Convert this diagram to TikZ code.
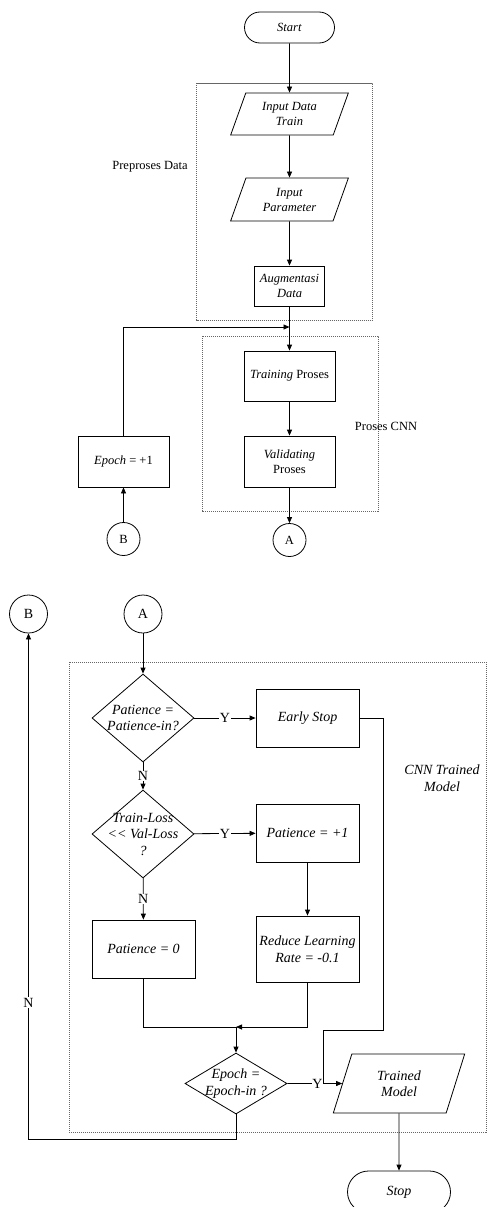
\documentclass[tikz,border=0pt]{standalone}
\usepackage{fontspec}
\setmainfont{Liberation Serif}
\usetikzlibrary{shapes.geometric,arrows.meta}
\begin{document}
\begin{tikzpicture}[x=1pt,y=-1pt,
  line width=0.8pt,
  topf/.style={font=\fontsize{12.5}{15}\selectfont},
  botf/.style={font=\fontsize{14}{16.5}\selectfont},
  base/.style={align=center, inner sep=0pt},
  proc/.style={base, draw, rectangle},
  term/.style={base, draw, rectangle},
  io/.style={base, draw, trapezium, trapezium stretches=true},
  dia/.style={draw, diamond, inner sep=0pt},
  conn/.style={base, draw, circle},
  grp/.style={draw=black!60, dash pattern=on 1.2pt off 0.8pt, line width=0.7pt},
  arr/.style={-{Triangle[length=6pt,width=5pt]}},
  lbl/.style={base, fill=white, inner sep=0.8pt},
  grplbl/.style={base}
]
\useasboundingbox (0,0) rectangle (488,1207);
\fill[white] (0,0) rectangle (488,1207);

% ---------- groups ----------
\draw[grp] (196.5,83) rectangle (372.5,320);
\node[grplbl, topf] (lpre) at (150,167) {Preproses Data};
\draw[grp] (202,336) rectangle (378,511);
\node[grplbl, topf] (lcnn) at (386,426) {Proses CNN};
\draw[grp] (69,662) rectangle (486,1132);
\node[grplbl, botf, font=\fontsize{14}{16.5}\selectfont\itshape] (ltm) at (442,778) {CNN Trained\\Model};

% ---------- top part ----------
\node[term, topf, rounded corners=15.5pt, minimum width=90, minimum height=31] (start) at (289.5,27.5) {\textit{Start}};
\node[io, topf, trapezium left angle=68, trapezium right angle=112, minimum width=118, minimum height=42] (idt) at (289.5,114) {\textit{Input Data}\\\textit{Train}};
\node[io, topf, trapezium left angle=68, trapezium right angle=112, minimum width=118, minimum height=43] (ipar) at (289.5,199.5) {\textit{Input}\\\textit{Parameter}};
\node[proc, topf, minimum width=70, minimum height=40] (aug) at (289.5,286) {\textit{Augmentasi}\\\textit{Data}};
\node[proc, topf, minimum width=91, minimum height=50] (tp) at (289.5,376) {\textit{Training} Proses};
\node[proc, topf, minimum width=91, minimum height=51] (vp) at (289.5,461.5) {\textit{Validating}\\Proses};
\node[proc, topf, minimum width=91, minimum height=51] (ep) at (123.5,461.5) {\textit{Epoch} = +1};
\node[conn, topf, minimum size=33] (A1) at (289.5,540) {A};
\node[conn, topf, minimum size=33] (B1) at (123.5,539) {B};
\coordinate (j1) at (289.5,327);

\draw[arr] (start) -- (idt);
\draw[arr] (idt) -- (ipar);
\draw[arr] (ipar) -- (aug);
\draw[arr] (aug) -- (tp);
\draw[arr] (ep.north) |- (j1);
\draw[arr] (tp) -- (vp);
\draw[arr] (vp) -- (A1);
\draw[arr] (B1) -- (ep);

% ---------- bottom part ----------
\node[conn, botf, minimum size=38] (B2) at (28.5,614) {B};
\node[conn, botf, minimum size=38] (A2) at (143,614) {A};

\node[dia, minimum width=102, minimum height=88] (d1) at (143,718) {};
\node[base, botf, font=\fontsize{14}{16.5}\selectfont\itshape] (d1t) at (d1) {Patience =\\Patience-in?};
\node[proc, botf, minimum width=103, minimum height=58] (es) at (307.5,718) {\textit{Early Stop}};

\node[dia, minimum width=102, minimum height=88] (d2) at (143,834) {};
\node[base, botf, font=\fontsize{14}{16.5}\selectfont\itshape] (d2t) at (d2) {Train-Loss\\<{}< Val-Loss\\?};
\node[proc, botf, minimum width=103, minimum height=58] (pp1) at (307.5,833) {\textit{Patience = +1}};

\node[proc, botf, minimum width=103, minimum height=58] (p0) at (143.5,949) {\textit{Patience = 0}};
\node[proc, botf, minimum width=103, minimum height=66] (rl) at (307.5,949) {\textit{Reduce Learning}\\\textit{Rate = -0.1}};

\node[dia, minimum width=102, minimum height=61] (d3) at (236,1083.5) {};
\node[base, botf, font=\fontsize{14}{16.5}\selectfont\itshape] (d3t) at (d3) {Epoch =\\Epoch-in ?};

\node[io, botf, trapezium left angle=72, trapezium right angle=108, minimum width=132, minimum height=59] (tm) at (399,1083.5) {\textit{Trained}\\\textit{Model}};
\node[term, botf, rounded corners=21pt, minimum width=103, minimum height=42] (stop) at (399,1192) {\textit{Stop}};

\coordinate (m) at (236,1027);
\coordinate (e1) at (383,1030);
\coordinate (e2) at (323,1083.5);
\coordinate (r1) at (236,1139);

\draw[arr] (A2) -- (d1);
\draw[arr] (d1) -- node[lbl, botf] (y1) {Y} (es);
\draw[arr] (d1) -- node[lbl, botf] (n1) {N} (d2);
\draw[arr] (d2) -- node[lbl, botf] (y2) {Y} (pp1);
\draw[arr] (d2) -- node[lbl, botf] (n2) {N} (p0);
\draw[arr] (pp1) -- (rl);
\draw (p0.south) |- (m);
\draw[arr] (rl.south) |- (m);
\draw[arr] (m) -- (d3.north);
\draw (es.east) -| (e1) -| (e2);
\draw[arr] (d3.east) -- node[lbl, botf, pos=0.55] (y3) {Y} (tm.west);
\draw[arr] (d3.south) -- (r1) -| node[lbl, botf, pos=0.635] (n3) {N} (B2.south);
\draw[arr] (tm) -- (stop);
\end{tikzpicture}
\end{document}
